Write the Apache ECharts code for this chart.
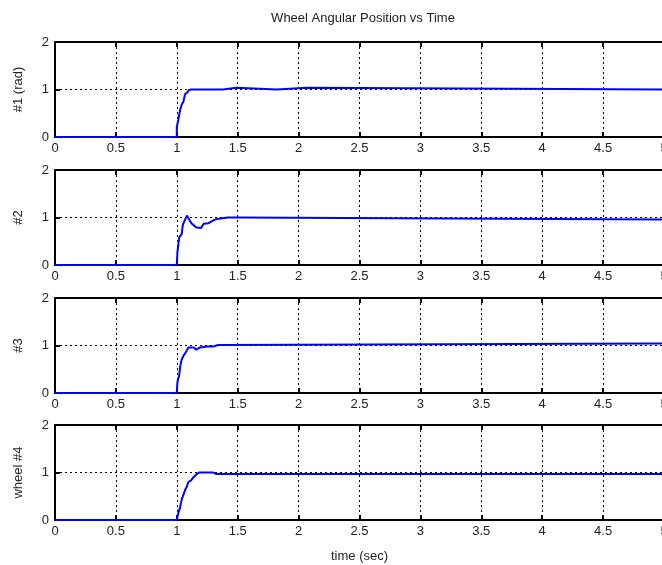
<!DOCTYPE html>
<html lang="en">
<head>
  <meta charset="UTF-8">
  <title>Wheel Angular Position vs Time</title>
  <script src="https://cdn.jsdelivr.net/npm/echarts@6/dist/echarts.min.js"></script>
  <style>
    html, body { margin: 0; padding: 0; background: #fff; }
  </style>
</head>
<body>
  <div id="main" style="width: 662px;height:565px;"></div>
  <script>
    // wheel #1
    var t1 = [0, 1.0, 1.0, 1.013, 1.027, 1.04, 1.054, 1.068, 1.087, 1.1, 1.12, 1.38, 1.39, 1.49, 1.5, 1.82, 1.83, 2.07, 2.08, 5]
    var y1 = [0, 0, 0.21, 0.37, 0.57, 0.68, 0.74, 0.9, 0.94, 0.99, 1.0, 1.0, 1.035, 1.035, 1.0, 1.0, 1.035, 1.035, 1.0, 1.0]
    // wheel #2
    var t2 = [0, 1.0, 1.005, 1.02, 1.04, 1.05, 1.067, 1.082, 1.12, 1.16, 1.2, 1.22, 1.26, 1.3, 1.33, 1.42, 1.49, 1.5, 5]
    var y2 = [0, 0, 0.27, 0.58, 0.65, 0.85, 0.95, 1.04, 0.88, 0.79, 0.78, 0.87, 0.88, 0.94, 0.97, 1.0, 1.0, 0.96, 0.96]
    // wheel #3
    var t3 = [0, 1.0, 1.005, 1.02, 1.03, 1.04, 1.054, 1.076, 1.095, 1.14, 1.16, 1.19, 1.25, 1.3, 1.34, 1.39, 1.4, 5]
    var y3 = [0, 0, 0.23, 0.38, 0.59, 0.7, 0.78, 0.87, 0.96, 0.96, 0.91, 0.96, 0.98, 0.98, 1.01, 1.01, 1.04, 1.04]
    // wheel #4
    var t4 = [0, 1.0, 1.013, 1.027, 1.04, 1.054, 1.068, 1.082, 1.095, 1.115, 1.137, 1.164, 1.186, 1.3, 1.32, 5]
    var y4 = [0, 0, 0.155, 0.26, 0.43, 0.46, 0.63, 0.7, 0.8, 0.83, 0.9, 0.97, 1.0, 1.0, 0.97, 0.97]

    var names = ['#1 (rad)', '#2', '#3', 'wheel #4']
    var times = [t1, t2, t3, t4]
    var values = [y1, y2, y3, y4]
    var xTicks = [0, 0.5, 1, 1.5, 2, 2.5, 3, 3.5, 4, 4.5, 5]

    var tops = [42, 170, 298, 425]
    var font = 'Liberation Sans, Arial, sans-serif'

    var grid = [], xAxis = [], yAxis = [], series = []
    tops.forEach(function (top, i) {
      grid.push({ left: 55, width: 609, top: top, height: 95, containLabel: false, outerBoundsMode: 'none' })
      xAxis.push({
        type: 'value', gridIndex: i, min: 0, max: 5, interval: 0.5,
        position: 'bottom',
        name: i === 3 ? 'time (sec)' : '',
        nameLocation: 'middle', nameGap: 30,
        nameTextStyle: { color: '#222', fontSize: 13, fontFamily: font },
        axisLine: { onZero: false, lineStyle: { color: '#000', width: 2 } },
        axisTick: { inside: true, length: 5, lineStyle: { color: '#000', width: 2 } },
        axisLabel: {
          color: '#222', fontSize: 13, fontFamily: font, margin: 5,
          formatter: function (v) { return xTicks.indexOf(v) >= 0 ? String(v) : '' }
        },
        splitLine: { show: true, lineStyle: { color: '#000', type: [2, 3], width: 1 } }
      })
      // top border of the box
      xAxis.push({
        type: 'value', gridIndex: i, min: 0, max: 5, interval: 0.5,
        position: 'top',
        axisLine: { onZero: false, lineStyle: { color: '#000', width: 2 } },
        axisTick: { inside: true, length: 5, lineStyle: { color: '#000', width: 2 } },
        axisLabel: { show: false },
        splitLine: { show: false }
      })
      yAxis.push({
        type: 'value', gridIndex: i, min: 0, max: 2, interval: 1,
        name: names[i], nameLocation: 'middle', nameGap: 30, nameRotate: 90,
        nameTextStyle: { color: '#222', fontSize: 13, fontFamily: font },
        axisLine: { show: true, lineStyle: { color: '#000', width: 2 } },
        axisTick: { show: true, inside: true, length: 5, lineStyle: { color: '#000', width: 2 } },
        axisLabel: { color: '#222', fontSize: 13, fontFamily: font, margin: 6 },
        splitLine: { show: true, lineStyle: { color: '#000', type: [2, 3], width: 1 } }
      })
      var data = times[i].map(function (t, k) { return [t, values[i][k]] })
      series.push({
        type: 'line', xAxisIndex: i * 2, yAxisIndex: i,
        data: data, showSymbol: false, animation: false,
        lineStyle: { color: '#0000ff', width: 2 }, z: 5
      })
    })

    var myChart = echarts.init(document.getElementById('main'))
    myChart.setOption({
      animation: false,
      title: {
        text: 'Wheel Angular Position vs Time', left: 358, top: 7, textAlign: 'center',
        textStyle: { color: '#222', fontSize: 13, fontWeight: 'normal', fontFamily: font }
      },
      grid: grid,
      xAxis: xAxis,
      yAxis: yAxis,
      series: series
    })
  </script>
</body>
</html>
